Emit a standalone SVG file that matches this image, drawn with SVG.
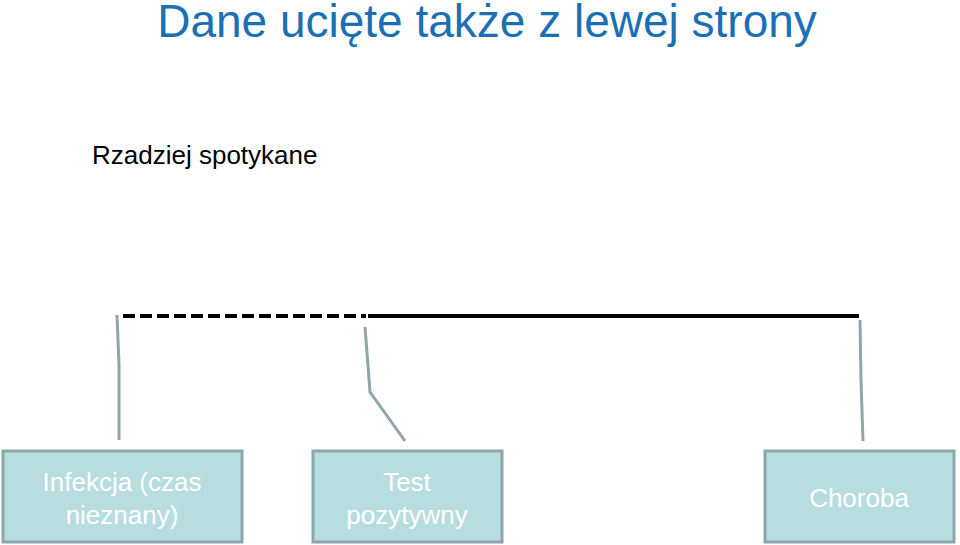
<svg xmlns="http://www.w3.org/2000/svg" width="960" height="545" viewBox="0 0 960 545">
<style>
.box{fill:#b7dde0;stroke:#8da6aa;stroke-width:3}
.t{font-family:"Liberation Sans",Arial,sans-serif;font-size:26px;fill:#ffffff;text-anchor:middle}
.c{fill:none;stroke:#8ea6a9;stroke-width:3}
</style>
<rect width="960" height="545" fill="#fff"/>
<text x="487" y="37" font-family="Liberation Sans,Arial,sans-serif" font-size="46" fill="#1a6fb5" text-anchor="middle">Dane ucięte także z lewej strony</text>
<text x="92" y="164" font-family="Liberation Sans,Arial,sans-serif" font-size="26" fill="#000">Rzadziej spotykane</text>
<g id="connectors">
<line x1="123" y1="316" x2="366" y2="316" stroke="#000" stroke-width="4" stroke-dasharray="12,5"/>
<line x1="368" y1="316" x2="859" y2="316" stroke="#000" stroke-width="4"/>
<polyline class="c" points="117,315 119,365 119,440"/>
<polyline class="c" points="365,327 370,392 405,441"/>
<polyline class="c" points="860,320 861,380 863,441"/>
</g>
<g id="n1"><rect class="box" x="3" y="451" width="239" height="91"/><text class="t" x="122" y="491">Infekcja (czas</text><text class="t" x="122" y="524">nieznany)</text></g>
<g id="n2"><rect class="box" x="313" y="451" width="189" height="91"/><text class="t" x="407" y="491">Test</text><text class="t" x="407" y="524">pozytywny</text></g>
<g id="n3"><rect class="box" x="765" y="451" width="189" height="91"/><text class="t" x="859" y="507">Choroba</text></g>
</svg>
